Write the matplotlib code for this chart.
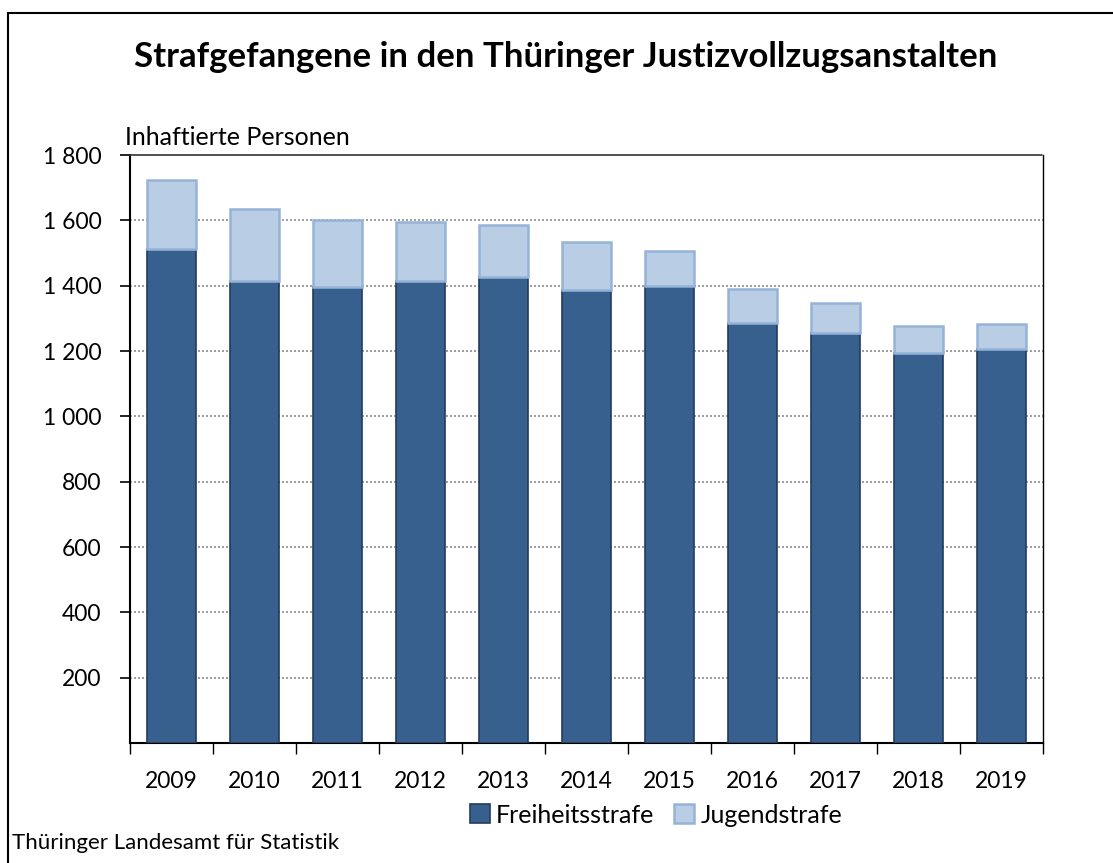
import matplotlib
matplotlib.use("Agg")
import matplotlib.pyplot as plt
from matplotlib.patches import Rectangle
from matplotlib.ticker import FixedLocator, FuncFormatter
import numpy as np

plt.rcParams['font.family'] = ['Lato', 'DejaVu Sans']

years = ["2009", "2010", "2011", "2012", "2013", "2014", "2015", "2016", "2017", "2018", "2019"]
freiheitsstrafe = [1513, 1414, 1397, 1414, 1427, 1388, 1399, 1287, 1254, 1194, 1206]
jugendstrafe = [209, 221, 205, 180, 158, 146, 108, 102, 92, 84, 78]
yticks = [200, 400, 600, 800, 1000, 1200, 1400, 1600, 1800]

W, H = 1113, 863
fig = plt.figure(figsize=(W / 100, H / 100), dpi=100)
ax = fig.add_axes([130 / W, (H - 743) / H, (1043 - 130) / W, (743 - 155) / H])

x = np.arange(len(years))
dark = "#37608f"
dark_edge = "#223c5c"
light = "#b9cde5"
light_edge = "#95b3d7"
bw = 0.59
ax.bar(x, freiheitsstrafe, width=bw, color=dark, edgecolor=dark_edge, linewidth=1.2,
       label="Freiheitsstrafe", zorder=3)
ax.bar(x, jugendstrafe, bottom=freiheitsstrafe, width=bw, color=light, edgecolor=light_edge,
       linewidth=1.8, label="Jugendstrafe", zorder=3)

ax.set_xlim(-0.5, len(years) - 0.5)
ax.set_ylim(0, 1800)

ax.yaxis.set_major_locator(FixedLocator(yticks))
ax.yaxis.set_major_formatter(FuncFormatter(lambda v, p: f"{int(v):,}".replace(",", " ")))
for v in yticks[:-1]:
    ax.axhline(v, color="#8c8c8c", linestyle=(0, (1.2, 1.2)), linewidth=1.2, zorder=1)

ax.set_xticks(x)
ax.set_xticklabels(years)
ax.xaxis.set_minor_locator(FixedLocator(np.arange(-0.5, len(years), 1.0)))
ax.tick_params(axis="x", which="major", length=0, pad=20, labelsize=16.5)
ax.tick_params(axis="x", which="minor", length=8, width=1, color="black")
ax.tick_params(axis="y", which="major", length=7, width=1.2, color="black", labelsize=16.5, pad=13.5)

for s in ["left", "bottom"]:
    ax.spines[s].set_linewidth(1.5)
    ax.spines[s].set_color("black")
ax.spines["right"].set_linewidth(1.0)
ax.spines["right"].set_color("black")
ax.spines["top"].set_color("#333333")
ax.spines["top"].set_linewidth(1.2)
ax.spines["top"].set_linestyle((0, (1, 1)))

ax.text(-0.005, 1.01, "Inhaftierte Personen", transform=ax.transAxes, fontsize=18,
        ha="left", va="bottom")

fig.text(566 / W, 1 - 57 / H, "Strafgefangene in den Thüringer Justizvollzugsanstalten",
         fontsize=25, fontweight="bold", ha="center", va="center")

fig.legend(loc="center", bbox_to_anchor=(656 / W, 1 - 815 / H), ncol=2, frameon=False,
           fontsize=18, handlelength=0.8, handleheight=0.8, handletextpad=0.25,
           columnspacing=0.8)

fig.text(12 / W, 1 - 843 / H, "Thüringer Landesamt für Statistik", fontsize=16,
         ha="left", va="center")

fig.patches.append(Rectangle((7.5 / W, -0.1), 1.2, 1 - 13.5 / H + 0.1,
                             transform=fig.transFigure, fill=False, edgecolor="black",
                             linewidth=1.5))

fig.savefig("out.png", dpi=100)
